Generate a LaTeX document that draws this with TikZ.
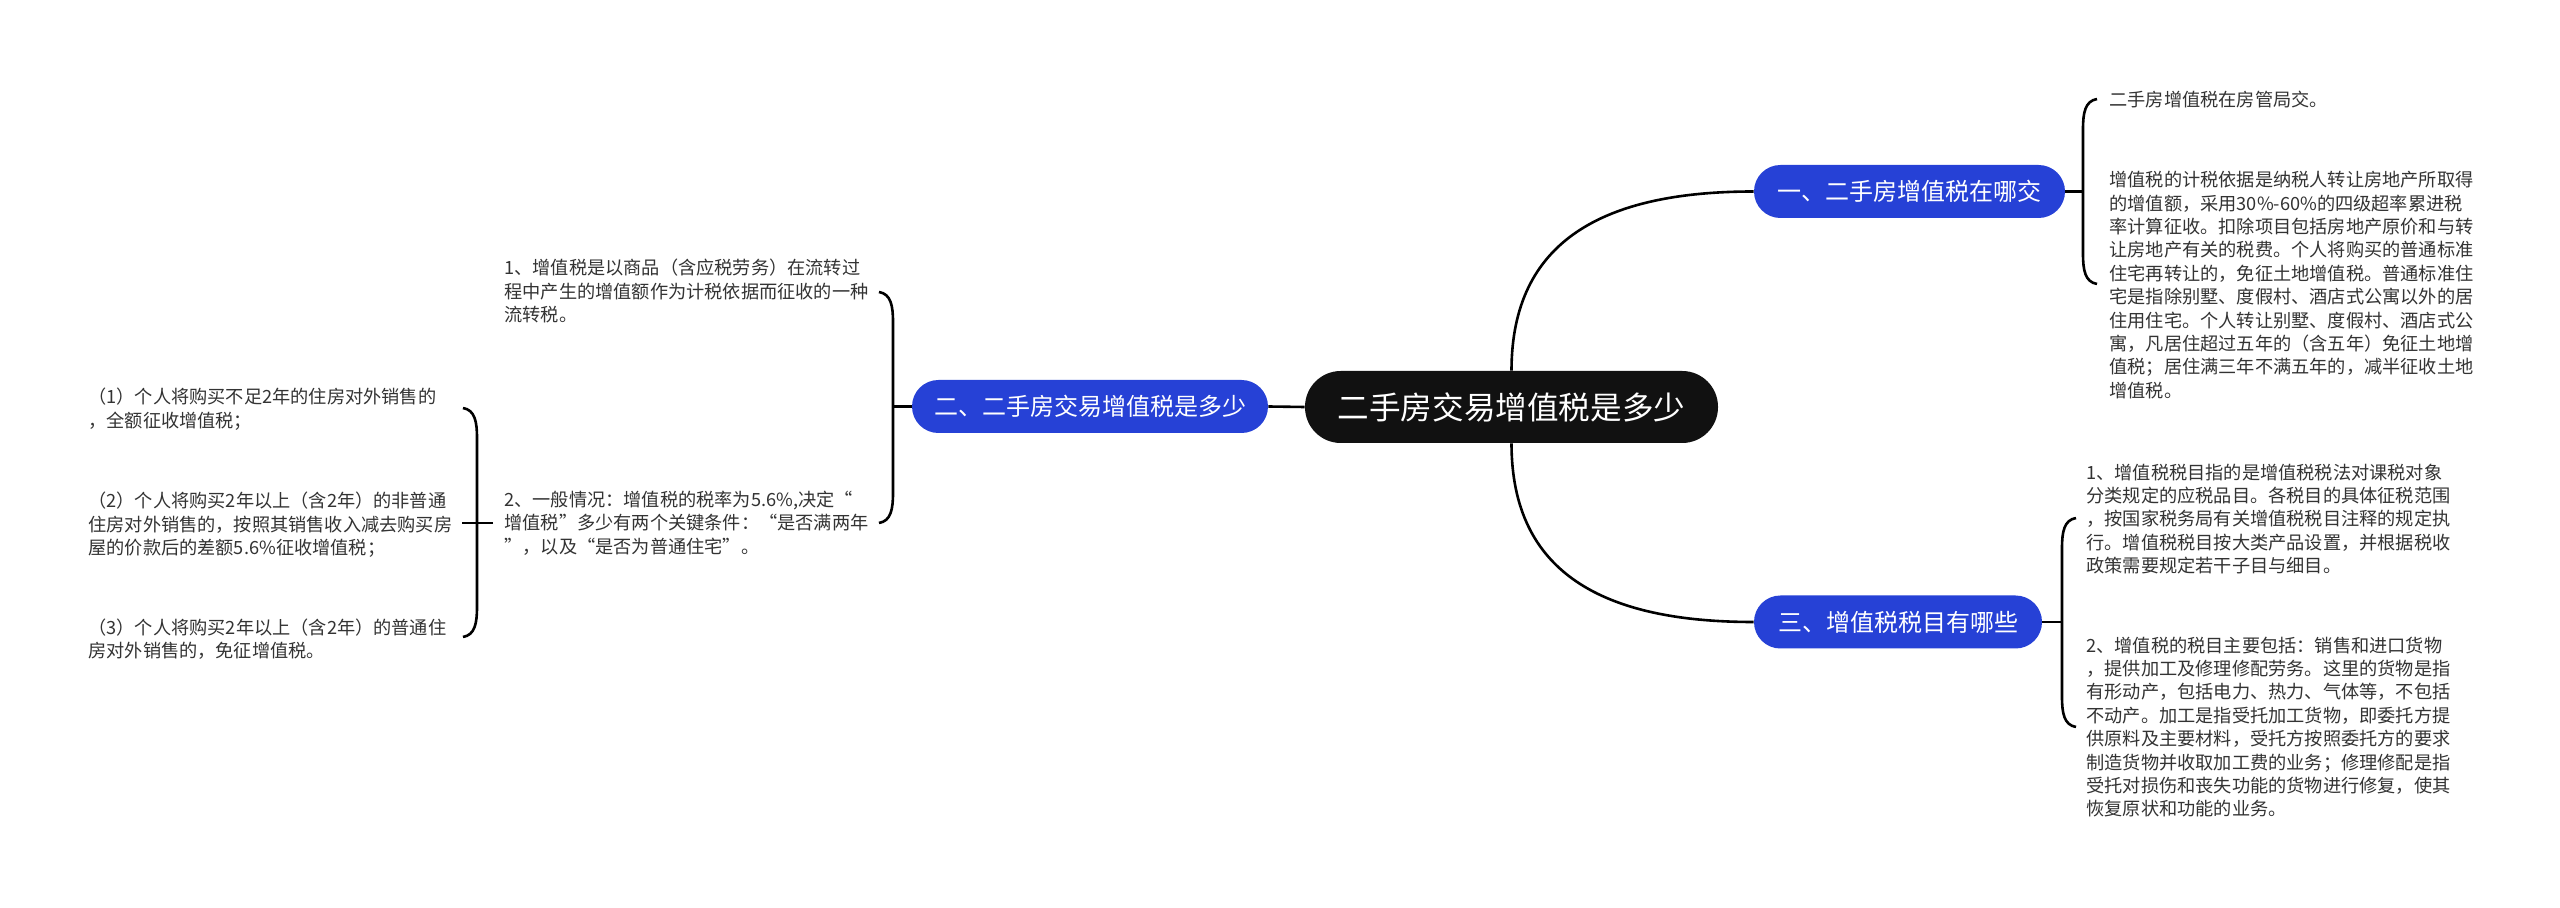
\documentclass[tikz,border=0pt]{standalone}
\usepackage{fontspec}
\setmainfont{Noto Sans CJK SC}
\usetikzlibrary{calc}
\definecolor{ink}{HTML}{333333}
\definecolor{topic}{HTML}{111111}
\definecolor{branch}{HTML}{2641D6}
\newcommand\leaffont{\fontsize{9.1pt}{11.7pt}\selectfont}
\newcommand\branchfont{\fontsize{12pt}{14pt}\selectfont}
\newcommand\topicfont{\fontsize{15.8pt}{18pt}\selectfont}
\tikzset{link/.style={line width=1.3pt,black},
root/.style={fill=topic,text=white,rounded corners=17.9pt,minimum height=36pt,font=\topicfont,inner sep=0pt},
sub/.style={fill=branch,text=white,rounded corners=13.2pt,minimum height=26.5pt,font=\branchfont,inner sep=0pt},
leaf/.style={anchor=west,align=left,inner sep=0pt,font=\leaffont,text=ink}}

\begin{document}
\begin{tikzpicture}[x=.5pt,y=-.5pt]
\useasboundingbox[fill=white] (0,0) rectangle (2560,908);
% main topic and branches
\node[root,minimum width=206.5pt] (ctr) at (1511.5,407) {二手房交易增值税是多少};
\node[sub,minimum width=155.5pt] (b1) at (1909.5,191.5) {一、二手房增值税在哪交};
\node[sub,minimum width=178pt] (b2) at (1090,406.5) {二、二手房交易增值税是多少};
\node[sub,minimum width=144pt] (b3) at (1898,622) {三、增值税税目有哪些};
\draw[link] (ctr.north) .. controls +(0,-130) and +(-150,0) .. (b1.west);
\draw[link] (ctr.south) .. controls +(0,130) and +(-150,0) .. (b3.west);
\draw[link] (ctr.west) -- (b2.east);
% branch 1
\node[leaf] (l11) at (2109,100) {二手房增值税在房管局交。};
\node[leaf] (l12) at (2109,285) {增值税的计税依据是纳税人转让房地产所取得\\的增值额，采用30\%-60\%的四级超率累进税\\率计算征收。扣除项目包括房地产原价和与转\\让房地产有关的税费。个人将购买的普通标准\\住宅再转让的，免征土地增值税。普通标准住\\宅是指除别墅、度假村、酒店式公寓以外的居\\住用住宅。个人转让别墅、度假村、酒店式公\\寓，凡居住超过五年的（含五年）免征土地增\\值税；居住满三年不满五年的，减半征收土地\\增值税。};
\coordinate (k1) at (2083,191.5);
\draw[link] (b1.east) -- (k1);
\draw[link] (2097,99) .. controls (2085,101) and (2083,113) .. (2083,129) -- (2083,254) .. controls (2083,270) and (2085,282) .. (2097,284);
% branch 3
\node[leaf] (l31) at (2086,519) {1、增值税税目指的是增值税税法对课税对象\\分类规定的应税品目。各税目的具体征税范围\\，按国家税务局有关增值税税目注释的规定执\\行。增值税税目按大类产品设置，并根据税收\\政策需要规定若干子目与细目。};
\node[leaf] (l32) at (2086,727) {2、增值税的税目主要包括：销售和进口货物\\，提供加工及修理修配劳务。这里的货物是指\\有形动产，包括电力、热力、气体等，不包括\\不动产。加工是指受托加工货物，即委托方提\\供原料及主要材料，受托方按照委托方的要求\\制造货物并收取加工费的业务；修理修配是指\\受托对损伤和丧失功能的货物进行修复，使其\\恢复原状和功能的业务。};
\coordinate (k3) at (2062,622);
\draw[link] (b3.east) -- (k3);
\draw[link] (2076,518) .. controls (2064,520) and (2062,532) .. (2062,548) -- (2062,697) .. controls (2062,713) and (2064,725) .. (2076,727);
% branch 2
\node[leaf] (l21) at (504,291) {1、增值税是以商品（含应税劳务）在流转过\\程中产生的增值额作为计税依据而征收的一种\\流转税。};
\node[leaf] (l22) at (504,523) {2、一般情况：增值税的税率为5.6\%,决定“\\增值税”多少有两个关键条件：“是否满两年\\”，以及“是否为普通住宅”。};
\coordinate (k2) at (893,406.5);
\draw[link] (b2.west) -- (k2);
\draw[link] (879,292) .. controls (891,294) and (893,306) .. (893,322) -- (893,493) .. controls (893,509) and (891,521) .. (879,523);
% cases under 2
\node[leaf] (l221) at (88,409) {（1）个人将购买不足2年的住房对外销售的\\，全额征收增值税；};
\node[leaf] (l222) at (88,525) {（2）个人将购买2年以上（含2年）的非普通\\住房对外销售的，按照其销售收入减去购买房\\屋的价款后的差额5.6\%征收增值税；};
\node[leaf] (l223) at (88,639) {（3）个人将购买2年以上（含2年）的普通住\\房对外销售的，免征增值税。};
\coordinate (k4) at (462,523);
\draw[link] ($(l22.west)+(-11,0)$) -- (k4);
\draw[link] (463,408) .. controls (475,410) and (477,422) .. (477,438) -- (477,607) .. controls (477,623) and (475,635) .. (463,637);
\end{tikzpicture}
\end{document}
